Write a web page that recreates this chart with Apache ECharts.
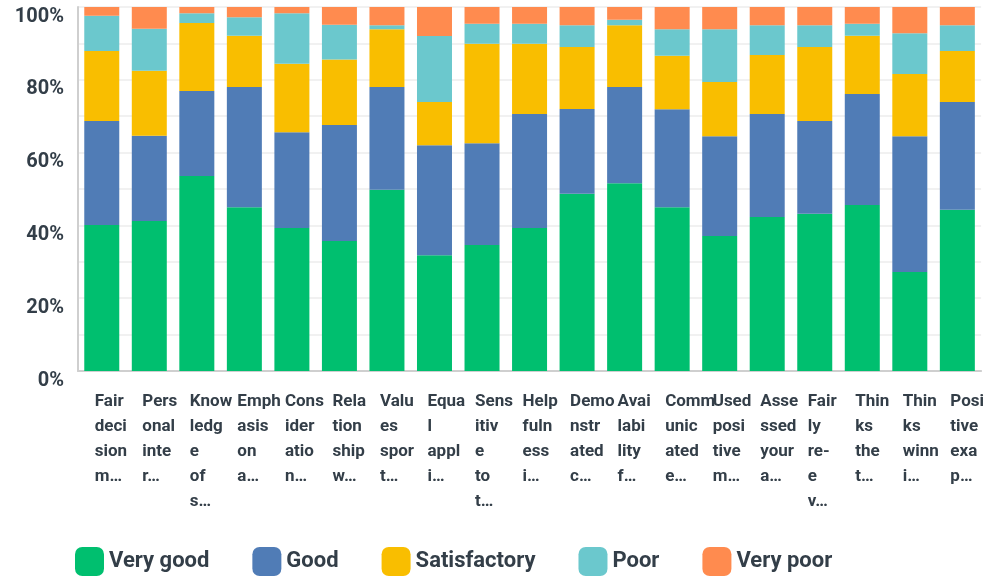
<!DOCTYPE html>
<html>
<head>
<meta charset="utf-8">
<script src="https://cdn.jsdelivr.net/npm/echarts@6/dist/echarts.min.js"></script>
<style>
  html, body { margin: 0; padding: 0; background: #fff; }
  #chart { width: 987px; height: 577px; }
</style>
</head>
<body>
<div id="chart"></div>
<script>
// category labels, already broken into lines like the original
var categories = [
    "Fair\ndeci\nsion\nm…", "Pers\nonal\ninte\nr…", "Know\nledg\ne\nof\ns…", "Emph\nasis\non\na…",
    "Cons\nider\natio\nn…", "Rela\ntion\nship\nw…", "Valu\nes\nspor\nt…", "Equa\nl\nappl\ni…",
    "Sens\nitiv\ne\nto\nt…", "Help\nfuln\ness\ni…", "Demo\nnstr\nated\nc…", "Avai\nlabi\nlity\nf…",
    "Comm\nunic\nated\ne…", "Used\nposi\ntive\nm…", "Asse\nssed\nyour\na…", "Fair\nly\nre-\ne\nv…",
    "Thin\nks\nthe\nt…", "Thin\nks\nwinn\ni…", "Posi\ntive\nexa\np…"
];

// percentages per answer
var veryGood = [40.1, 41.2, 53.6, 45.0, 39.3, 35.7, 49.8, 31.8, 34.6, 39.3, 48.7, 51.6, 45.0, 37.1, 42.3, 43.2, 45.6, 27.2, 44.3];
var good = [28.6, 23.4, 23.3, 33.0, 26.3, 31.9, 28.2, 30.2, 28.0, 31.3, 23.3, 26.4, 26.9, 27.4, 28.3, 25.5, 30.5, 37.3, 29.6];
var satisfactory = [19.2, 17.9, 18.7, 14.1, 18.8, 18.0, 15.9, 11.9, 27.3, 19.3, 17.0, 17.0, 14.7, 14.9, 16.2, 20.3, 16.0, 17.1, 14.0];
var poor = [9.7, 11.5, 2.7, 5.1, 13.9, 9.5, 1.1, 18.1, 5.5, 5.5, 6.0, 1.5, 7.3, 14.5, 8.2, 6.0, 3.3, 11.2, 7.1];
var veryPoor = [2.4, 6.0, 1.7, 2.8, 1.7, 4.9, 5.0, 8.0, 4.6, 4.6, 5.0, 3.5, 6.1, 6.1, 5.0, 5.0, 4.6, 7.2, 5.0];

var seriesNames = ["Very good", "Good", "Satisfactory", "Poor", "Very poor"];
var seriesColors = ["#00bf6f", "#507cb6", "#f9be00", "#6bc8cd", "#ff8b4f"];
var seriesData = [veryGood, good, satisfactory, poor, veryPoor];

var textColor = "#333e48";
var fontName = "Roboto, 'Noto Sans', sans-serif";

var series = [];
for (let i = 0; i < seriesNames.length; i++) {
    series.push({
        name: seriesNames[i],
        type: "bar",
        stack: "total",
        barWidth: 35,
        itemStyle: { color: seriesColors[i] },
        data: seriesData[i]
    });
}

var myChart = echarts.init(document.getElementById("chart"));
var option = {
    animation: false,
    grid: { left: 78, right: 5, top: 7, bottom: 206, containLabel: false },
    legend: {
        data: seriesNames,
        left: 75,
        top: 547,
        padding: 0,
        itemWidth: 29,
        itemHeight: 29,
        itemGap: 43,
        icon: "roundRect",
        textStyle: { color: textColor, fontSize: 22, fontWeight: "bold", fontFamily: fontName }
    },
    xAxis: {
        type: "category",
        data: categories,
        axisTick: { show: false },
        axisLine: { lineStyle: { color: "#cfcfcf", width: 2 } },
        axisLabel: {
            interval: 0,
            align: "left",
            padding: [0, 0, 0, -7],
            margin: 18,
            lineHeight: 25,
            color: textColor,
            fontSize: 17,
            fontWeight: "bold",
            fontFamily: fontName
        }
    },
    yAxis: {
        type: "value",
        min: 0,
        max: 100,
        interval: 10,
        axisLine: { show: true, lineStyle: { color: "#cfcfcf", width: 2 } },
        axisTick: { show: false },
        splitLine: { lineStyle: { color: "#ececec", width: 1.5 } },
        axisLabel: {
            margin: 14,
            verticalAlign: "top",
            lineHeight: 19,
            color: textColor,
            fontSize: 20,
            fontWeight: "bold",
            fontFamily: fontName,
            formatter: function (v) { return v % 20 === 0 ? v + "%" : ""; }
        }
    },
    series: series
};
myChart.setOption(option);
</script>
</body>
</html>
